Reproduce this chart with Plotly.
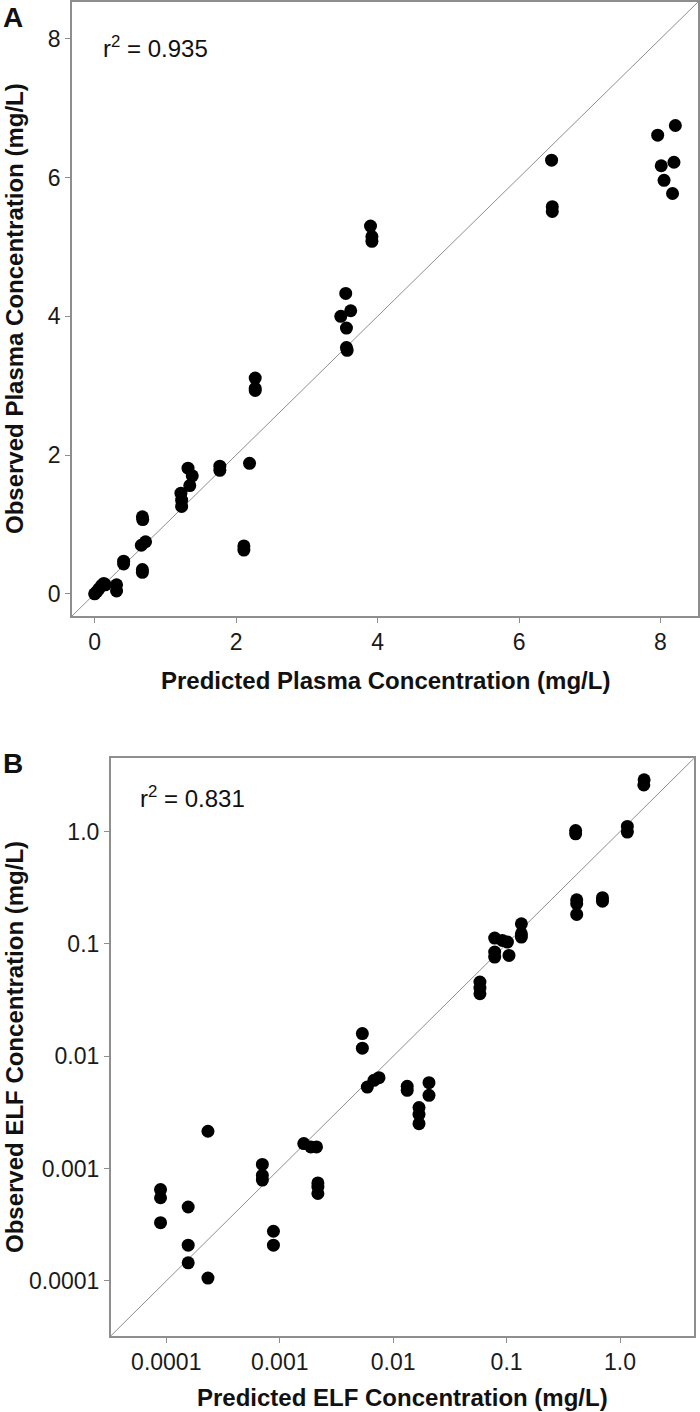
import plotly.graph_objects as go

# Panel A - plasma (linear axes)
plasma_pred = [0.0, 0.03, 0.06, 0.1, 0.13, 0.15, 0.31, 0.31, 0.41, 0.41,
               0.66, 0.72, 0.675, 0.68, 0.675, 0.675,
               1.22, 1.23, 1.23, 1.32, 1.38, 1.345, 1.77, 1.77,
               2.19, 2.11, 2.11, 2.27, 2.27, 2.27,
               3.55, 3.48, 3.62, 3.56, 3.56, 3.57,
               3.90, 3.92, 3.92, 6.46, 6.47, 6.47,
               7.96, 8.21, 8.01, 8.19, 8.05, 8.17]
plasma_obs = [0.0, 0.03, 0.07, 0.12, 0.15, 0.13, 0.13, 0.04, 0.47, 0.43,
              0.70, 0.75, 1.11, 1.07, 0.35, 0.31,
              1.45, 1.35, 1.26, 1.81, 1.70, 1.56, 1.84, 1.78,
              1.88, 0.69, 0.63, 3.11, 2.96, 2.93,
              4.33, 4.00, 4.08, 3.83, 3.55, 3.51,
              5.30, 5.15, 5.08, 6.25, 5.58, 5.51,
              6.61, 6.75, 6.17, 6.22, 5.96, 5.77]

# Panel B - ELF (log axes)
elf_pred = [0.000089, 0.000089, 0.000089, 0.000156, 0.000156, 0.000156,
            0.000233, 0.000233, 0.000703, 0.000703, 0.000703, 0.00088, 0.00088,
            0.00163, 0.00188, 0.00211, 0.00217, 0.00217, 0.00217,
            0.00535, 0.00535, 0.00592, 0.00677, 0.0075,
            0.0133, 0.0133, 0.0169, 0.0169, 0.0169, 0.0207, 0.0207,
            0.0582, 0.0582, 0.0582, 0.0785, 0.0785, 0.0785, 0.0918, 0.1017, 0.105,
            0.135, 0.135, 0.135, 0.406, 0.406, 0.415, 0.415, 0.415,
            0.70, 0.70, 1.16, 1.16, 1.63, 1.62]
elf_obs = [0.00065, 0.00055, 0.00033, 0.000455, 0.000208, 0.000145,
           0.00215, 0.000106, 0.00109, 0.00087, 0.00079, 0.000277, 0.000208,
           0.00167, 0.00156, 0.00156, 0.000745, 0.000686, 0.0006,
           0.0159, 0.0118, 0.00532, 0.0061, 0.00645,
           0.0054, 0.00497, 0.00349, 0.00304, 0.00251, 0.00582, 0.00449,
           0.0457, 0.0404, 0.036, 0.1127, 0.0846, 0.0763, 0.1074, 0.1038, 0.079,
           0.151, 0.123, 0.115, 1.02, 0.955, 0.247, 0.228, 0.183,
           0.258, 0.24, 1.11, 0.99, 2.89, 2.6]

elf_ticks = [0.0001, 0.001, 0.01, 0.1, 1.0]
elf_ticktext = ["0.0001", "0.001", "0.01", "0.1", "1.0"]

range_a = [-0.32, 8.53]
range_b_log = [-4.49, 0.652]
identity_a = [-0.32, 8.53]
identity_b = [10 ** -4.49, 10 ** 0.652]

FONT = "Liberation Sans, Arial, sans-serif"
GREY = "#8e8e8e"

fig = go.Figure()

fig.add_trace(go.Scatter(x=identity_a, y=identity_a, mode="lines",
                         line=dict(color=GREY, width=1), xaxis="x", yaxis="y",
                         showlegend=False))
fig.add_trace(go.Scatter(x=plasma_pred, y=plasma_obs, mode="markers",
                         marker=dict(color="black", size=13), xaxis="x", yaxis="y",
                         showlegend=False))
fig.add_trace(go.Scatter(x=identity_b, y=identity_b, mode="lines",
                         line=dict(color=GREY, width=1), xaxis="x2", yaxis="y2",
                         showlegend=False))
fig.add_trace(go.Scatter(x=elf_pred, y=elf_obs, mode="markers",
                         marker=dict(color="black", size=13), xaxis="x2", yaxis="y2",
                         showlegend=False))

axis_style = dict(showline=True, mirror=True, linecolor=GREY, linewidth=1.5,
                  showgrid=False, zeroline=False, ticks="outside", ticklen=5,
                  tickcolor=GREY, tickwidth=1,
                  tickfont=dict(family=FONT, size=23, color="#1a1a1a"))

W, H = 700, 1412
fig.update_layout(
    width=W, height=H,
    margin=dict(l=0, r=0, t=0, b=0),
    plot_bgcolor="white", paper_bgcolor="white",
    xaxis=dict(domain=[72 / W, 698 / W], range=range_a, anchor="y",
               tickvals=[0, 2, 4, 6, 8], **axis_style),
    yaxis=dict(domain=[1 - 616 / H, 1 - 2 / H], range=range_a, anchor="x",
               tickvals=[0, 2, 4, 6, 8], **axis_style),
    xaxis2=dict(domain=[110.7 / W, 694 / W], type="log", range=range_b_log, anchor="y2",
                tickvals=elf_ticks, ticktext=elf_ticktext, **axis_style),
    yaxis2=dict(domain=[1 - 1336 / H, 1 - 758.3 / H], type="log", range=range_b_log, anchor="x2",
                tickvals=elf_ticks, ticktext=elf_ticktext, **axis_style),
)

def label(text, x, y, size, bold=False, angle=0, xanchor="center"):
    fig.add_annotation(text=f"<b>{text}</b>" if bold else text,
                       x=x / W, y=1 - y / H, xref="paper", yref="paper",
                       xanchor=xanchor, yanchor="middle", textangle=angle,
                       showarrow=False,
                       font=dict(family=FONT, size=size, color="#111111"))

# panel letters
label("A", 1, 18, 28, bold=True, xanchor="left")
label("B", 1, 763, 28, bold=True, xanchor="left")

# r squared
label("r<sup>2</sup> = 0.935", 101, 47, 24, xanchor="left")
label("r<sup>2</sup> = 0.831", 138, 797, 24, xanchor="left")

# axis titles
label("Predicted Plasma Concentration (mg/L)", 385, 680, 24, bold=True)
label("Observed Plasma Concentration (mg/L)", 14, 309, 24, bold=True, angle=-90)
label("Predicted ELF Concentration (mg/L)", 402, 1397, 24, bold=True)
label("Observed ELF Concentration (mg/L)", 14, 1047, 24, bold=True, angle=-90)

# the page body has a default 8px margin; drop it so the figure sits at 0,0
fig.write_html("out.html", config={"displayModeBar": False},
               post_script="document.body.style.margin='0';document.body.style.overflow='hidden';")
